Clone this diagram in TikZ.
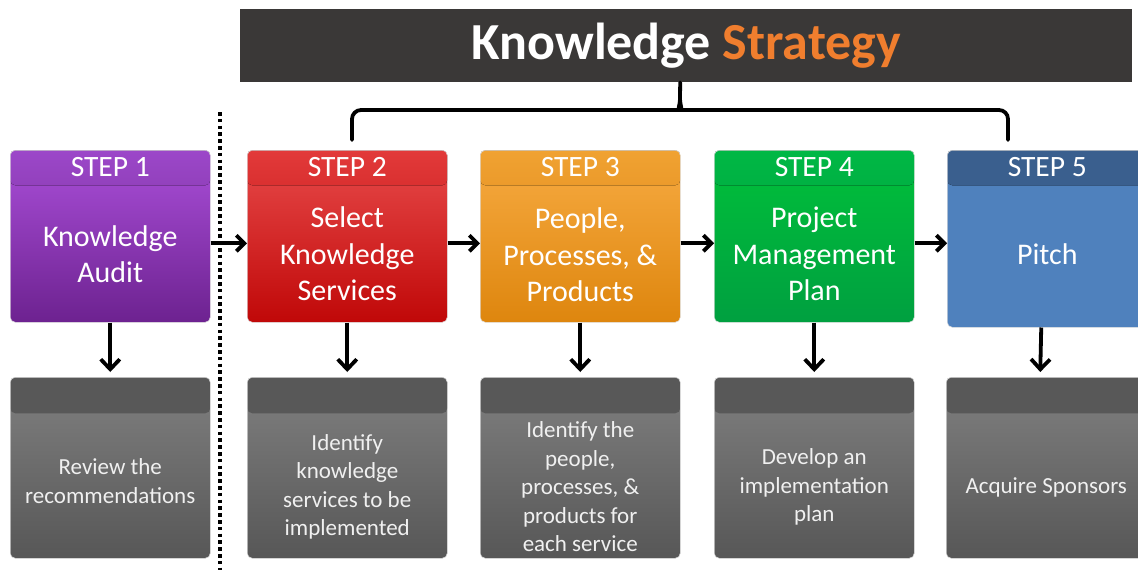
\documentclass[tikz,border=0pt]{standalone}
\usepackage{fontspec}
\setmainfont{Carlito}
\usetikzlibrary{arrows.meta,calc}
\definecolor{barbg}{HTML}{3A3837}
\definecolor{orangetxt}{HTML}{F07E2E}
\definecolor{pHt}{HTML}{9C47C9}\definecolor{pHb}{HTML}{6C2A8C}
\definecolor{pBt}{HTML}{AA4FD9}\definecolor{pBb}{HTML}{6D2290}
\definecolor{rHt}{HTML}{E23A3A}\definecolor{rHb}{HTML}{BB0A0A}
\definecolor{rBt}{HTML}{E84B4B}\definecolor{rBb}{HTML}{C00808}
\definecolor{oHt}{HTML}{F0A232}\definecolor{oHb}{HTML}{D97E10}
\definecolor{oBt}{HTML}{F7AB42}\definecolor{oBb}{HTML}{DE860E}
\definecolor{gHt}{HTML}{00B845}\definecolor{gHb}{HTML}{00983C}
\definecolor{gBt}{HTML}{00C03A}\definecolor{gBb}{HTML}{00A040}
\definecolor{bH}{HTML}{3A5F8E}
\definecolor{bB}{HTML}{4F81BD}
\definecolor{kH}{HTML}{585858}
\definecolor{kBt}{HTML}{808080}\definecolor{kBb}{HTML}{575757}
\begin{document}
\begin{tikzpicture}[x=1pt,y=-1pt,
  stepbox/.style n args={4}{rectangle, rounded corners=5pt, anchor=north west,
    inner sep=0pt, minimum width=200pt, minimum height=172pt,
    draw=black!12, line width=0.5pt, top color=#3, bottom color=#4,
    path picture={\fill[top color=#1,bottom color=#2]
      (path picture bounding box.north west) rectangle
      ([yshift=-35pt]path picture bounding box.north east);}},
  graybox/.style={rectangle, rounded corners=5pt, anchor=north west,
    inner sep=0pt, minimum width=200pt, minimum height=181pt,
    draw=black!12, line width=0.5pt, top color=kBt, bottom color=kBb,
    path picture={\fill[kH]
      (path picture bounding box.north west) rectangle
      ([yshift=-36pt]path picture bounding box.north east);}},
  hdr/.style={text=white, inner sep=0pt, font=\fontsize{29.5}{34}\selectfont},
  bodytxt/.style={text=white, align=center, inner sep=0pt, font=\fontsize{30}{36.5}\selectfont},
  lowtxt/.style={text=white!94!black, align=center, inner sep=0pt, font=\fontsize{23}{28.5}\selectfont},
  harr/.style={line width=3.8pt, -{Straight Barb[length=8pt,width=16pt]}},
  varr/.style={line width=3.8pt, -{Straight Barb[length=10pt,width=19pt]}},
  bracket/.style={line width=3.8pt, line cap=round},
  dotline/.style={line width=4.2pt, dash pattern=on 3.6pt off 3.2pt}
]
\path[use as bounding box, fill=white] (0,0) rectangle (1138,571);
\clip (0,0) rectangle (1138,571);

% title bar
\node[rectangle, fill=barbg, anchor=north west, inner sep=0pt,
      minimum width=892pt, minimum height=73pt] (title) at (240,9) {};
\node[inner sep=0pt, font=\fontsize{52}{60}\selectfont\bfseries] (titletxt)
  at ($(title.center)+(0,0)$) {\textcolor{white}{Knowledge} \textcolor{orangetxt}{Strategy}};

% step boxes
\node[stepbox={pHt}{pHb}{pBt}{pBb}] (s1) at (10,150) {};
\node[stepbox={rHt}{rHb}{rBt}{rBb}] (s2) at (247,150) {};
\node[stepbox={oHt}{oHb}{oBt}{oBb}] (s3) at (480,150) {};
\node[stepbox={gHt}{gHb}{gBt}{gBb}] (s4) at (714,150) {};
\node[stepbox={bH}{bH}{bB}{bB}, minimum height=177pt] (s5) at (947,150) {};

\node[hdr] (s1h) at ($(s1.north)+(0,17.5)$) {STEP 1};
\node[hdr] (s2h) at ($(s2.north)+(0,17.5)$) {STEP 2};
\node[hdr] (s3h) at ($(s3.north)+(0,17.5)$) {STEP 3};
\node[hdr] (s4h) at ($(s4.north)+(0,17.5)$) {STEP 4};
\node[hdr] (s5h) at ($(s5.north)+(0,17)$) {STEP 5};

\node[bodytxt] (s1t) at ($(s1.north)+(0,104)$) {Knowledge\\Audit};
\node[bodytxt] (s2t) at ($(s2.north)+(0,104)$) {Select\\Knowledge\\Services};
\node[bodytxt] (s3t) at ($(s3.north)+(0,105)$) {People,\\Processes, \&\\Products};
\node[bodytxt] (s4t) at ($(s4.north)+(0,104)$) {Project\\Management\\Plan};
\node[bodytxt] (s5t) at ($(s5.north)+(0,104)$) {Pitch};

% lower boxes
\node[graybox] (d1) at (10,377) {};
\node[graybox] (d2) at (247,377) {};
\node[graybox] (d3) at (480,377) {};
\node[graybox] (d4) at (714,377) {};
\node[graybox] (d5) at (946,377) {};

\node[lowtxt] (d1t) at ($(d1.north)+(0,104)$) {Review the\\recommendations};
\node[lowtxt] (d2t) at ($(d2.north)+(0,110)$) {Identify\\knowledge\\services to be\\implemented};
\node[lowtxt] (d3t) at ($(d3.north)+(0,110)$) {Identify the\\people,\\processes, \&\\products for\\each service};
\node[lowtxt] (d4t) at ($(d4.north)+(0,110)$) {Develop an\\implementation\\plan};
\node[lowtxt] (d5t) at ($(d5.north)+(0,110)$) {Acquire Sponsors};

% horizontal arrows
\draw[harr] ($(s1.east)+(0,7)$) -- ($(s2.west)+(0,7)$);
\draw[harr] ($(s2.east)+(0,7)$) -- ($(s3.west)+(0,7)$);
\draw[harr] ($(s3.east)+(0,7)$) -- ($(s4.west)+(0,7)$);
\draw[harr] ($(s4.east)+(0,7)$) -- ($(s5.west |- s4.east)+(0,7)$);

% down arrows
\draw[varr] (s1.south) -- ($(d1.north)+(0,-5)$);
\draw[varr] (s2.south) -- ($(d2.north)+(0,-5)$);
\draw[varr] (s3.south) -- ($(d3.north)+(0,-5)$);
\draw[varr] (s4.south) -- ($(d4.north)+(0,-5)$);
\draw[varr] ($(s5.south)+(-6,0)$) -- ($(d5.north)+(-6,-5)$);

% bracket
\coordinate (bl) at (352,140);
\coordinate (br) at (1008,140);
\coordinate (bc) at ($(title.south)+(-6,0)$);
\draw[bracket] (bl) [rounded corners=9pt] -- (352,110) -- (671,110) [sharp corners]
  .. controls (677,110) and (680,106) .. (680,98) -- (bc);
\draw[bracket] (br) [rounded corners=9pt] -- (1008,110) -- (689,110) [sharp corners]
  .. controls (683,110) and (680,106) .. (680,98);

% dotted separator
\coordinate (dtop) at (220,112);
\coordinate (dbot) at (220,570);
\draw[dotline] (dtop) -- (dbot);
\end{tikzpicture}
\end{document}
